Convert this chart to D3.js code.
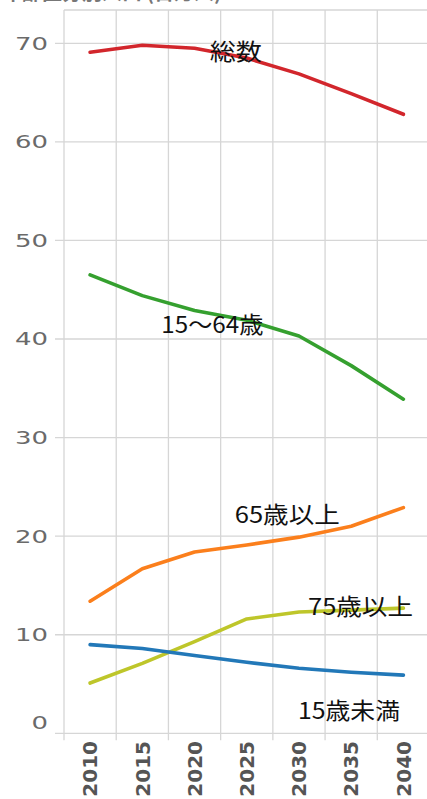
<!DOCTYPE html>
<html><head><meta charset="utf-8">
<script src="https://cdn.jsdelivr.net/npm/d3@7"></script>
<style>
html,body{margin:0;padding:0;background:#fff;}
svg{display:block;}
</style></head>
<body>
<svg id="c" width="427" height="799"></svg>
<script>
const years = [2010, 2015, 2020, 2025, 2030, 2035, 2040];
const total    = [69.1, 69.8, 69.5, 68.5, 66.9, 64.9, 62.8];
const age15_64 = [46.5, 44.4, 42.9, 41.9, 40.3, 37.3, 33.9];
const age65    = [13.4, 16.7, 18.4, 19.1, 19.9, 21.0, 22.9];
const age75    = [5.1, 7.1, 9.3, 11.6, 12.3, 12.5, 12.7];
const under15  = [9.0, 8.6, 7.9, 7.2, 6.6, 6.2, 5.9];
const yTicks   = [0, 10, 20, 30, 40, 50, 60, 70];
const seriesNames = ["総数", "15〜64歳", "65歳以上", "75歳以上", "15歳未満"];
const seriesColors = ["#d2262c", "#35a02f", "#fb7f1c", "#bec62a", "#2278b8"];
const titleText = "年齢区分別人口 (百万人)";

const svg = d3.select("#c");
const x = d3.scaleBand().domain(years).range([64, 429.5]).padding(0);
const xc = d => x(d) + x.bandwidth() / 2;
const y = d3.scaleLinear().domain([0, 70]).range([733.3, 43.3]);

// title (cut off at top in the reference)
svg.append("text").attr("x", 2).attr("y", 0)
  .attr("font-family", "'Noto Sans CJK JP', sans-serif")
  .attr("font-size", 20).attr("font-weight", "bold").attr("fill", "#777")
  .text(titleText);

const grid = "#d6d6d6";
svg.append("g").selectAll("line").data(yTicks).join("line")
  .attr("x1", 55).attr("x2", 427)
  .attr("y1", d => y(d)).attr("y2", d => y(d))
  .attr("stroke", grid).attr("stroke-width", 1.3);
svg.append("line").attr("x1", x(years[0])).attr("x2", 427)
  .attr("y1", 10).attr("y2", 10).attr("stroke", grid).attr("stroke-width", 1.3);
svg.append("g").selectAll("line").data(years).join("line")
  .attr("x1", d => x(d)).attr("x2", d => x(d))
  .attr("y1", 10).attr("y2", y(0) + 7)
  .attr("stroke", grid).attr("stroke-width", 1.3);

svg.append("g").selectAll("text").data(yTicks).join("text")
  .attr("x", 48).attr("y", d => y(d) + (d === 0 ? -11 : 0))
  .attr("dy", "0.36em").attr("text-anchor", "end")
  .attr("font-family", "'DejaVu Sans', sans-serif").attr("font-size", 18)
  .attr("fill", "#6a6a6a")
  .attr("textLength", d => String(d).length * 16.5)
  .attr("lengthAdjust", "spacingAndGlyphs")
  .text(d => d);

svg.append("g").selectAll("text").data(years).join("text")
  .attr("transform", d => `translate(${xc(d)},741) rotate(-90)`)
  .attr("text-anchor", "end").attr("dy", "0.36em")
  .attr("font-family", "'DejaVu Sans', sans-serif").attr("font-size", 20)
  .attr("font-weight", "bold").attr("fill", "#555")
  .text(d => d);

const allSeries = [total, age15_64, age65, age75, under15];
const line = d3.line().x((d, i) => xc(years[i])).y(d => y(d));
const order = [3, 4, 2, 1, 0];
svg.append("g").selectAll("path").data(order).join("path")
  .attr("d", k => line(allSeries[k]))
  .attr("fill", "none").attr("stroke", k => seriesColors[k])
  .attr("stroke-width", 3.6).attr("stroke-linejoin", "round").attr("stroke-linecap", "round");

const labelPos = [
  {k: 0, year: 2025, dx: -11, v: 70, dy: 17, anchor: "middle", len: 52},
  {k: 1, year: 2015, dx: 19, v: 40, dy: -6, anchor: "start", len: 102},
  {k: 2, year: 2025, dx: -12, v: 20, dy: -13, anchor: "start", len: 105},
  {k: 3, year: 2030, dx: 9, v: 10, dy: -20, anchor: "start", len: 105},
  {k: 4, year: 2030, dx: -1, v: 0, dy: -14, anchor: "start", len: 102}
];
svg.append("g").selectAll("text").data(labelPos).join("text")
  .attr("x", d => xc(d.year) + d.dx).attr("y", d => y(d.v) + d.dy)
  .attr("text-anchor", d => d.anchor)
  .attr("font-family", "'Noto Sans CJK JP', sans-serif").attr("font-size", 23)
  .attr("fill", "#111")
  .attr("textLength", d => d.len).attr("lengthAdjust", "spacingAndGlyphs")
  .text(d => seriesNames[d.k]);
</script>
</body></html>
